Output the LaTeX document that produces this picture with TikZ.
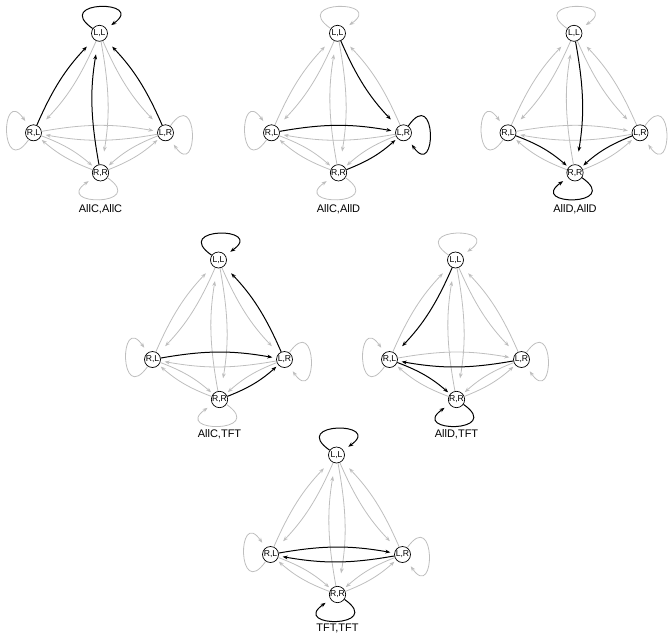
\documentclass[tikz,border=0pt]{standalone}
\usepackage{fontspec}
\setmainfont{Liberation Sans}
\usetikzlibrary{arrows.meta}
\definecolor{edgegray}{RGB}{190,190,190}
\def\bnd{10}
\tikzset{
  x=1pt, y=1pt,
  stnode/.style={circle, draw=black, line width=0.7pt, fill=white, inner sep=0pt,
    minimum size=16pt, font=\fontsize{8.6}{8.6}\selectfont},
  lab/.style={font=\fontsize{11}{11}\selectfont, inner sep=0pt},
  gedge/.style={draw=edgegray, line width=0.8pt, -{Stealth[length=5pt,width=3.8pt]}},
  bedge/.style={draw=black, line width=1pt, -{Stealth[length=5pt,width=3.8pt]}},
  sDiag/.style={shorten >=10pt},
  sVert/.style={shorten >=13pt},
  sHor/.style={shorten >=4pt},
  sLow/.style={shorten >=2.5pt},
  sLoop/.style={shorten >=6pt},
  pOne/.style={gE/.style=gedge, bE/.style={draw=none}},
  pTwo/.style={gE/.style={draw=none}, bE/.style=bedge},
  allgray/.style={eLLRL/.style=gE, eRLLL/.style=gE, eLLLR/.style=gE, eLRLL/.style=gE,
    eLLRR/.style=gE, eRRLL/.style=gE, eRLLR/.style=gE, eLRRL/.style=gE,
    eRLRR/.style=gE, eRRRL/.style=gE, eLRRR/.style=gE, eRRLR/.style=gE,
    lLL/.style=gE, lRL/.style=gE, lLR/.style=gE, lRR/.style=gE}
}
\newcommand\tetraedges[1]{%
  \draw[eLLRL,sDiag] (#1LL) to[bend left=\bnd] (#1RL);
  \draw[eRLLL,sDiag] (#1RL) to[bend left=\bnd] (#1LL);
  \draw[eLLLR,sDiag] (#1LL) to[bend right=\bnd] (#1LR);
  \draw[eLRLL,sDiag] (#1LR) to[bend right=\bnd] (#1LL);
  \draw[eLLRR,sVert] (#1LL) to[bend left=\bnd] (#1RR);
  \draw[eRRLL,sVert] (#1RR) to[bend left=\bnd] (#1LL);
  \draw[eRLLR,sHor] (#1RL) to[bend left=\bnd] (#1LR);
  \draw[eLRRL,sHor] (#1LR) to[bend left=\bnd] (#1RL);
  \draw[eRLRR,sLow] (#1RL) to[bend left=\bnd] (#1RR);
  \draw[eRRRL,sLow] (#1RR) to[bend left=\bnd] (#1RL);
  \draw[eLRRR,sLow] (#1LR) to[bend right=\bnd] (#1RR);
  \draw[eRRLR,sLow] (#1RR) to[bend right=\bnd] (#1LR);
  \draw[lLL,sLoop] (#1LL) to[out=145,in=35,out distance=50pt,in distance=50pt] (#1LL);
  \draw[lLR,sLoop] (#1LR) to[out=55,in=-55,out distance=50pt,in distance=50pt] (#1LR);
  \draw[lRR,sLoop] (#1RR) to[out=-35,in=-145,out distance=50pt,in distance=50pt] (#1RR);
  \draw[lRL,sLoop] (#1RL) to[out=-125,in=125,out distance=50pt,in distance=50pt] (#1RL);
}
\newcommand\tetra[3]{%
  \node[stnode] (#1LL) at (0,0) {L,L};
  \node[stnode] (#1RL) at (-66,-99.5) {R,L};
  \node[stnode] (#1LR) at (66,-99.5) {L,R};
  \node[stnode] (#1RR) at (1,-139.5) {R,R};
  \node[lab] (#1lab) at (1,#3) {#2};
  \begin{scope}[pOne]\tetraedges{#1}\end{scope}
  \begin{scope}[pTwo]\tetraedges{#1}\end{scope}
}
\begin{document}
\begin{tikzpicture}
\useasboundingbox (0,0) rectangle (670,-633);
% AllC,AllC
\begin{scope}[shift={(99.5,-33.3)}, allgray,
  eRLLL/.style=bE, eRRLL/.style=bE, eLRLL/.style=bE, lLL/.style=bE]
  \tetra{a}{AllC,AllC}{-176}
\end{scope}
% AllC,AllD
\begin{scope}[shift={(337.5,-33.3)}, allgray,
  eLLLR/.style=bE, eRLLR/.style=bE, eRRLR/.style=bE, lLR/.style=bE]
  \tetra{b}{AllC,AllD}{-176}
\end{scope}
% AllD,AllD
\begin{scope}[shift={(574,-33.3)}, allgray,
  eLLRR/.style=bE, eRLRR/.style=bE, eLRRR/.style=bE, lRR/.style=bE]
  \tetra{c}{AllD,AllD}{-176}
\end{scope}
% AllC,TFT
\begin{scope}[shift={(218.5,-260)}, allgray,
  lLL/.style=bE, eLRLL/.style=bE, eRLLR/.style=bE, eRRLR/.style=bE]
  \tetra{d}{AllC,TFT}{-174}
\end{scope}
% AllD,TFT
\begin{scope}[shift={(455.5,-260)}, allgray,
  eLLRL/.style=bE, eLRRL/.style=bE, eRLRR/.style=bE, lRR/.style=bE]
  \tetra{e}{AllD,TFT}{-174}
\end{scope}
% TFT,TFT
\begin{scope}[shift={(336.5,-455)}, allgray,
  lLL/.style=bE, eRLLR/.style=bE, eLRRL/.style=bE, lRR/.style=bE]
  \tetra{f}{TFT,TFT}{-173.5}
\end{scope}
\end{tikzpicture}
\end{document}
